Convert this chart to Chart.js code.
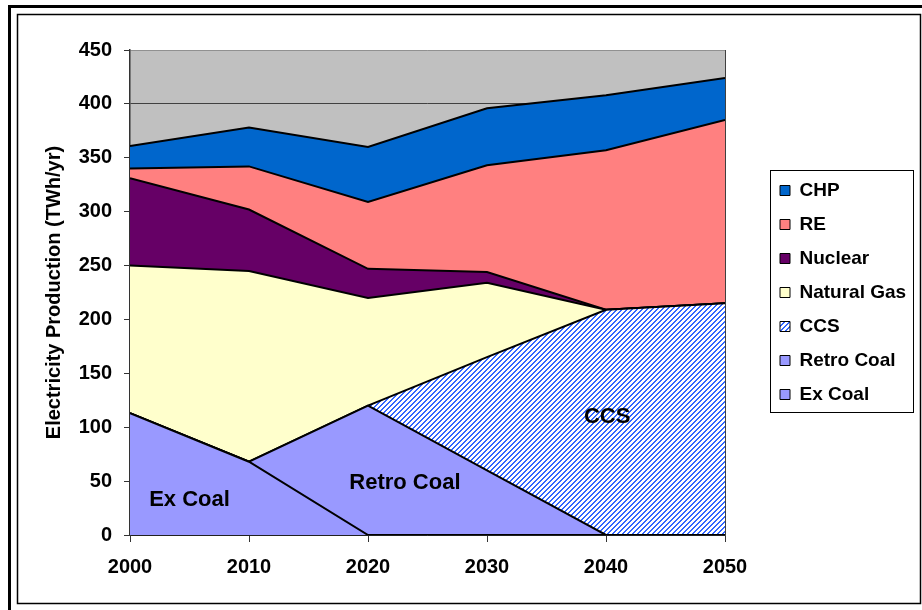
<!DOCTYPE html>
<html><head><meta charset="utf-8">
<script src="https://cdn.jsdelivr.net/npm/chart.js@4"></script>
<style>html,body{margin:0;padding:0;background:#fff;}canvas{display:block;}</style>
</head><body>
<canvas id="c" width="922" height="610"></canvas>
<script>
// ---- data ----
const years = [2000, 2010, 2020, 2030, 2040, 2050];
const exCoal     = [113, 68, 0, 0, 0, 0];
const retroCoal  = [0, 0, 120, 60, 0, 0];
const ccs        = [0, 0, 0, 105, 209, 215];
const naturalGas = [137, 177, 100, 69, 0, 0];
const nuclear    = [81, 57, 27, 10, 0, 0];
const re         = [9, 40, 62, 99, 148, 170];
const chp        = [21, 36, 51, 53, 51, 39];
const seriesNames = ['Ex Coal', 'Retro Coal', 'CCS', 'Natural Gas', 'Nuclear', 'RE', 'CHP'];
const yAxisTitle = 'Electricity Production (TWh/yr)';
const areaLabels = ['Ex Coal', 'Retro Coal', 'CCS'];
const areaLabelX = [2005, 2023.1, 2040.1];
const areaLabelY = [32.5, 48, 109.5];

// ---- styles ----
const FONT = '"Liberation Sans", Arial, sans-serif';
function hatchPattern() {
  const n = 5;
  const c = document.createElement('canvas');
  c.width = n; c.height = n;
  const g = c.getContext('2d');
  g.fillStyle = '#ffffff'; g.fillRect(0, 0, n, n);
  g.fillStyle = '#3366FF';
  for (let y = 0; y < n; y++) for (let x = 0; x < n; x++) if ((x + y) % n < 2) g.fillRect(x, y, 1, 1);
  return g.createPattern(c, 'repeat');
}
const fills = ['#9999FF', '#9999FF', hatchPattern(), '#FFFFCC', '#660066', '#FF8080', '#0066CC'];
const values = [exCoal, retroCoal, ccs, naturalGas, nuclear, re, chp];

const datasets = values.map((arr, i) => ({
  label: seriesNames[i],
  data: arr.map((v, j) => ({x: years[j], y: v})),
  backgroundColor: fills[i],
  borderColor: '#000000',
  borderWidth: 2,
  pointRadius: 0,
  tension: 0,
  fill: i === 0 ? 'origin' : '-1'
}));

const framePlugin = {
  id: 'frame',
  beforeDraw(chart) {
    const {ctx, chartArea: a} = chart;
    ctx.save();
    ctx.fillStyle = '#ffffff';
    ctx.fillRect(0, 0, chart.width, chart.height);
    ctx.strokeStyle = '#000';
    ctx.lineWidth = 3;
    ctx.strokeRect(9.5, 6.5, chart.width + 10, chart.height + 10);
    ctx.lineWidth = 1.5;
    ctx.strokeRect(17.5, 14.5, 903, 589);
    ctx.fillStyle = '#C0C0C0';
    ctx.fillRect(a.left, a.top, a.right - a.left, a.bottom - a.top);
    ctx.restore();
  },
  afterDatasetsDraw(chart) {
    const {ctx, chartArea: a, scales} = chart;
    ctx.save();
    ctx.strokeStyle = '#404040';
    ctx.lineWidth = 1;
    ctx.beginPath();
    ctx.moveTo(Math.round(a.right) + 0.5, a.top);
    ctx.lineTo(Math.round(a.right) + 0.5, a.bottom);
    ctx.stroke();
    ctx.fillStyle = '#000';
    ctx.font = 'bold 22px ' + FONT;
    ctx.textAlign = 'center';
    ctx.textBaseline = 'middle';
    areaLabels.forEach((t, i) => {
      ctx.fillText(t, scales.x.getPixelForValue(areaLabelX[i]), scales.y.getPixelForValue(areaLabelY[i]));
    });
    ctx.restore();
  },
  afterDraw(chart) {
    const lg = chart.legend;
    if (!lg || !lg.legendHitBoxes || !lg.legendHitBoxes.length) return;
    const hb = lg.legendHitBoxes;
    const ctx = chart.ctx;
    let r = 0;
    hb.forEach(h => { r = Math.max(r, h.left + h.width); });
    const x0 = Math.round(hb[0].left - 10);
    const y0 = Math.round(hb[0].top - 11);
    const last = hb[hb.length - 1];
    const x1 = Math.round(r + 7);
    const y1 = Math.round(last.top + last.height + 8);
    ctx.save();
    ctx.strokeStyle = '#000';
    ctx.lineWidth = 1;
    ctx.strokeRect(x0 + 0.5, y0 + 0.5, x1 - x0, y1 - y0);
    ctx.restore();
  }
};

new Chart(document.getElementById('c'), {
  type: 'line',
  data: {datasets},
  options: {
    responsive: false,
    animation: false,
    devicePixelRatio: 1,
    layout: {padding: {left: 20, top: 50, right: 8, bottom: 30}},
    scales: {
      x: {
        type: 'linear', min: 2000, max: 2050,
        ticks: {stepSize: 10, autoSkip: false, maxRotation: 0, padding: 13, color: '#000',
          font: {family: FONT, size: 20, weight: 'bold'}, callback: v => String(v)},
        grid: {drawOnChartArea: false, drawTicks: true, tickLength: 7, color: '#333'},
        border: {display: true, color: '#000', width: 1.5},
        afterFit(s) { s.height = 45; }
      },
      y: {
        stacked: true, min: 0, max: 450,
        ticks: {stepSize: 50, padding: 12, color: '#000',
          font: {family: FONT, size: 20, weight: 'bold'}},
        grid: {tickLength: 6, color: c => (c.tick && c.tick.value === 450) ? '#909090' : '#404040', tickColor: '#333'},
        border: {display: true, color: '#333', width: 1.5},
        title: {display: true, text: yAxisTitle, color: '#000',
          font: {family: FONT, size: 20, weight: 'bold'}, padding: {top: 22, bottom: 0}},
        afterFit(s) { s.width = 110; }
      },
      yGap: {
        position: 'right', display: true,
        grid: {display: false, drawTicks: false},
        border: {display: false},
        ticks: {display: false},
        afterFit(s) { s.width = 40; }
      }
    },
    plugins: {
      legend: {
        position: 'right', fullSize: false, reverse: true,
        labels: {
          boxWidth: 10, boxHeight: 10, padding: 15, color: '#000',
          font: {family: FONT, size: 19, weight: 'bold'},
          generateLabels(chart) {
            const items = Chart.defaults.plugins.legend.labels.generateLabels(chart);
            items.forEach(it => { it.lineWidth = 1; it.strokeStyle = '#000'; });
            return items;
          }
        }
      },
      tooltip: {enabled: false},
      filler: {propagate: false}
    }
  },
  plugins: [framePlugin]
});
</script>
</body></html>
